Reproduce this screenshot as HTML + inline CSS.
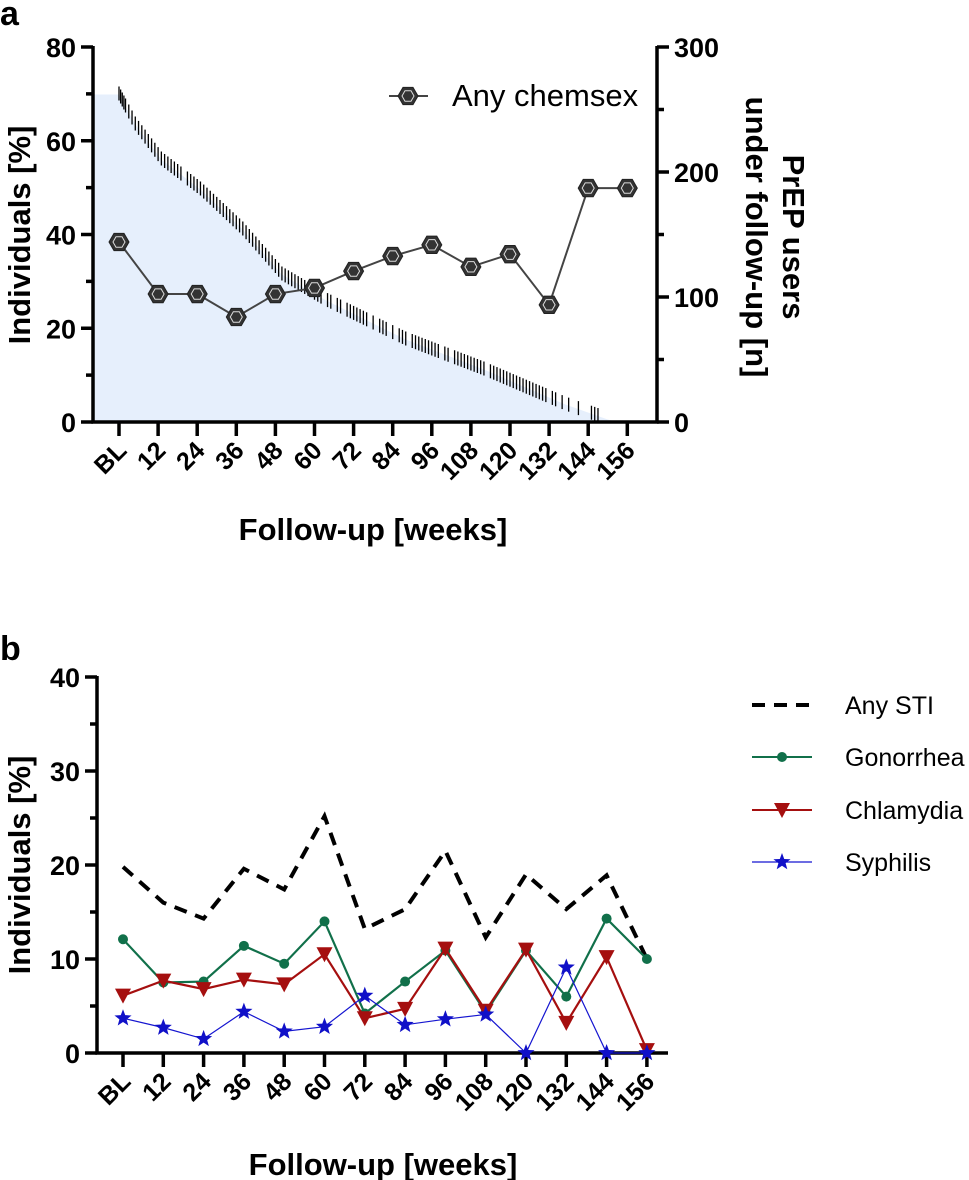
<!DOCTYPE html>
<html><head><meta charset="utf-8"><style>
body{margin:0;background:#fff;}
svg{display:block;font-family:"Liberation Sans",Arial,sans-serif;font-weight:bold;}
</style></head><body>
<svg id="chart" width="969" height="1180" viewBox="0 0 969 1180">
<text x="0" y="25" font-size="34">a</text>
<text x="0" y="660" font-size="34">b</text>
<g id="pa"></g>
<g id="pb"></g>
</svg>
<script>
const weekLabels=["BL","12","24","36","48","60","72","84","96","108","120","132","144","156"];
const weeks=[0,12,24,36,48,60,72,84,96,108,120,132,144,156];
const chemsex=[38.4,27.3,27.3,22.4,27.3,28.6,32.2,35.4,37.8,33.1,35.8,25,49.9,49.9];
const leftTicksA=[0,20,40,60,80];
const rightTicksA=[0,100,200,300];
// follow-up survival curve (week, n users)
const survWeeks=[-8,0,5,13,25,38,50,63,88,112,137,150,153];
const survN=[262,262,238,210,186,154,118,98,66,42,14,2,0];
const censorWeeks=[0,0.5,1,1.5,2,3,4,5,6,7,8,9,10,11,12,13,14,15,16,17,18,19,21,22,23,24,25,26,27,28,29,30,31,32,33,34,35,36,37,38,39,40,41,42,43,44,45,46,47,48,49,50,51,52,53,54,55,56,57,58,60,61,62,64,65,67,68,70,71,72,73,74,75,76,78,80,81,82,84,86,87,88,90,91,92,93,94,95,96,97,98,100,101,103,104,105,106,107,108,109,110,111,112,114,115,116,117,118,119,120,121,122,123,124,125,126,127,128,129,130,131,133,134,136,138,141,145,146,147];
const anySTI=[19.8,16,14.3,19.6,17.4,25.2,13.2,15.3,21.5,12.3,19,15.3,18.9,10];
const gonorrhea=[12.1,7.5,7.6,11.4,9.5,14,4.2,7.6,10.9,4.3,10.9,6,14.3,10];
const chlamydia=[6.1,7.7,6.8,7.8,7.3,10.5,3.7,4.7,11.1,4.5,11,3.2,10.2,0.3];
const syphilis=[3.7,2.7,1.5,4.4,2.3,2.8,6.1,3.0,3.6,4.1,0,9.1,0,0];
const ticksB=[0,10,20,30,40];

const NS="http://www.w3.org/2000/svg";
function mk(parent,tag,attrs,text){const e=document.createElementNS(NS,tag);for(const k in attrs)e.setAttribute(k,attrs[k]);if(text!==undefined)e.textContent=text;parent.appendChild(e);return e;}
const TICK=27, XT=25, TITLE=31;

// ---- Panel A ----
const pa=document.getElementById('pa');
const ax={x0:93,x1:657,y0:422,y1:47,bl:119,step:39.1};
const xA=w=>ax.bl+w/12*ax.step;
const yA=v=>ax.y0-(v/80)*(ax.y0-ax.y1);
const yR=n=>ax.y0-(n/300)*(ax.y0-ax.y1);
function survAt(w){for(let i=survWeeks.length-1;i>=0;i--){if(w>=survWeeks[i]){if(i===survWeeks.length-1)return survN[i];const t=(w-survWeeks[i])/(survWeeks[i+1]-survWeeks[i]);return survN[i]+t*(survN[i+1]-survN[i]);}}return survN[0];}
let d=`M${ax.x0},${ax.y0}`;
survWeeks.forEach((w,i)=>{d+=` L${Math.max(ax.x0,xA(w))},${yR(survN[i])}`;});
d+=` L${xA(survWeeks[survWeeks.length-1])},${ax.y0}Z`;
const area=mk(pa,'path',{d:d,fill:'#e6effc'});


const cg=mk(pa,'g',{stroke:'#000','stroke-width':1.3});


censorWeeks.forEach(w=>{const x=xA(w),y=yR(survAt(w));const l=mk(cg,'line',{x1:x,x2:x,y1:y-8,y2:y+6});

});
const axA=mk(pa,'g',{stroke:'#000','stroke-width':3.5,fill:'none'});


mk(axA,'path',{d:`M${ax.x0},${ax.y1-1}V${ax.y0}H${ax.x1}V${ax.y1-1}`});
for(let v=0;v<=80;v+=10){mk(axA,'line',{x1:ax.x0-(v%20?7:12),x2:ax.x0,y1:yA(v),y2:yA(v)});}
for(let n=0;n<=300;n+=50){mk(axA,'line',{x1:ax.x1,x2:ax.x1+(n%100?7:12),y1:yR(n),y2:yR(n)});}
weeks.forEach(w=>mk(axA,'line',{x1:xA(w),x2:xA(w),y1:ax.y0,y2:ax.y0+14}));
leftTicksA.forEach(v=>{const t=mk(pa,'text',{x:ax.x0-17,y:yA(v)+10,'font-size':TICK,'text-anchor':'end'},v);

});
rightTicksA.forEach(n=>{const t=mk(pa,'text',{x:ax.x1+17,y:yR(n)+10,'font-size':TICK},n);

});
weeks.forEach((w,i)=>{const x=xA(w)+9,y=ax.y0+30;const t=mk(pa,'text',{x:x,y:y,'font-size':XT,'text-anchor':'end',transform:`rotate(-45 ${x} ${y})`},weekLabels[i]);

});
let t=mk(pa,'text',{x:373,y:540,'font-size':TITLE,'text-anchor':'middle'},'Follow-up [weeks]');


t=mk(pa,'text',{x:30,y:235,'font-size':TITLE,'text-anchor':'middle',transform:'rotate(-90 30 235)'},'Individuals [%]');


t=mk(pa,'text',{x:783,y:237,'font-size':TITLE,'text-anchor':'middle',transform:'rotate(90 783 237)'},'PrEP users');


t=mk(pa,'text',{x:746,y:237,'font-size':TITLE,'text-anchor':'middle',transform:'rotate(90 746 237)'},'under follow-up [n]');


function hex(g,x,y){const r=10;let p='';for(let k=0;k<6;k++){const a=Math.PI/3*k;p+=(x+r*Math.cos(a))+','+(y+r*Math.sin(a))+' ';}
mk(g,'polygon',{points:p,fill:'#333',stroke:'#222','stroke-width':1});
let p2='';for(let k=0;k<6;k++){const a=Math.PI/3*k;p2+=(x+6*Math.cos(a))+','+(y+6*Math.sin(a))+' ';}
mk(g,'polygon',{points:p2,fill:'#333',stroke:'#ddd','stroke-width':1});}
const cs=mk(pa,'g',{});


mk(cs,'polyline',{points:weeks.map((w,i)=>xA(w)+','+yA(chemsex[i])).join(' '),fill:'none',stroke:'#444','stroke-width':2});
weeks.forEach((w,i)=>hex(cs,xA(w),yA(chemsex[i])));
const lgA=mk(pa,'g',{});


mk(lgA,'line',{x1:389,x2:428,y1:96,y2:96,stroke:'#444','stroke-width':2});
hex(lgA,408,96);
mk(lgA,'text',{x:452,y:106,'font-size':31,'font-weight':'normal'},'Any chemsex');

// ---- Panel B ----
const pb=document.getElementById('pb');
const bx={x0:97,x1:668,y0:1053,y1:677,bl:123,step:40.3};
const xB=w=>bx.bl+w/12*bx.step;
const yB=v=>bx.y0-(v/40)*(bx.y0-bx.y1);
const axB=mk(pb,'g',{stroke:'#000','stroke-width':3.5,fill:'none'});


mk(axB,'path',{d:`M${bx.x0},${bx.y1-1}V${bx.y0}H${bx.x1}`});
for(let v=0;v<=40;v+=5){mk(axB,'line',{x1:bx.x0-(v%10?7:12),x2:bx.x0,y1:yB(v),y2:yB(v)});}
weeks.forEach(w=>mk(axB,'line',{x1:xB(w),x2:xB(w),y1:bx.y0,y2:bx.y0+14}));
ticksB.forEach(v=>{const t=mk(pb,'text',{x:bx.x0-17,y:yB(v)+10,'font-size':TICK,'text-anchor':'end'},v);

});
weeks.forEach((w,i)=>{const x=xB(w)+9,y=bx.y0+30;const t=mk(pb,'text',{x:x,y:y,'font-size':XT,'text-anchor':'end',transform:`rotate(-45 ${x} ${y})`},weekLabels[i]);

});
t=mk(pb,'text',{x:383,y:1175,'font-size':TITLE,'text-anchor':'middle'},'Follow-up [weeks]');


t=mk(pb,'text',{x:30,y:865,'font-size':TITLE,'text-anchor':'middle',transform:'rotate(-90 30 865)'},'Individuals [%]');


function pts(arr){return weeks.map((w,i)=>xB(w)+','+yB(arr[i])).join(' ');}
const sti=mk(pb,'polyline',{points:pts(anySTI),fill:'none',stroke:'#000','stroke-width':4,'stroke-dasharray':'13 9'});


function tri(g,x,y,c){mk(g,'polygon',{points:`${x-8},${y-7} ${x+8},${y-7} ${x},${y+8}`,fill:c});}
function star(g,x,y,c,r){let p='';for(let k=0;k<10;k++){const rr=k%2?r*0.42:r;const a=-Math.PI/2+Math.PI/5*k;p+=(x+rr*Math.cos(a))+','+(y+rr*Math.sin(a))+' ';}mk(g,'polygon',{points:p,fill:c});}
const gg=mk(pb,'g',{});


mk(gg,'polyline',{points:pts(gonorrhea),fill:'none',stroke:'#11704a','stroke-width':2.2});
weeks.forEach((w,i)=>mk(gg,'circle',{cx:xB(w),cy:yB(gonorrhea[i]),r:5,fill:'#11704a'}));
const cg2=mk(pb,'g',{});


mk(cg2,'polyline',{points:pts(chlamydia),fill:'none',stroke:'#a50f0f','stroke-width':2.2});
weeks.forEach((w,i)=>tri(cg2,xB(w),yB(chlamydia[i]),'#a50f0f'));
const sg=mk(pb,'g',{});


mk(sg,'polyline',{points:pts(syphilis),fill:'none',stroke:'#1515d0','stroke-width':1.2});
weeks.forEach((w,i)=>star(sg,xB(w),yB(syphilis[i]),'#1010c8',9));
const lg=mk(pb,'g',{'font-size':25,'font-weight':'normal'});


mk(lg,'line',{x1:752,x2:812,y1:705,y2:705,stroke:'#000','stroke-width':4,'stroke-dasharray':'13 9'});
mk(lg,'text',{x:845,y:714},'Any STI');
mk(lg,'line',{x1:752,x2:812,y1:757,y2:757,stroke:'#11704a','stroke-width':2});
mk(lg,'circle',{cx:782,cy:757,r:5,fill:'#11704a'});
mk(lg,'text',{x:845,y:766},'Gonorrhea');
mk(lg,'line',{x1:752,x2:812,y1:810,y2:810,stroke:'#a50f0f','stroke-width':2});
tri(lg,782,810,'#a50f0f');
mk(lg,'text',{x:845,y:819},'Chlamydia');
mk(lg,'line',{x1:752,x2:812,y1:862,y2:862,stroke:'#1515d0','stroke-width':1.2});
star(lg,782,862,'#1010c8',9);
mk(lg,'text',{x:845,y:871},'Syphilis');
</script>
</body></html>
